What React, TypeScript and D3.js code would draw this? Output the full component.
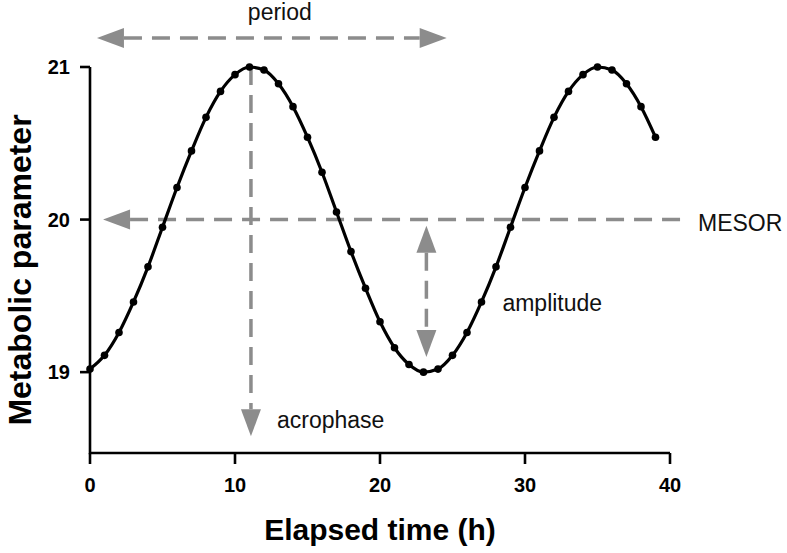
import React from 'react';
import * as d3 from 'd3';

// ---- data ----
const hours = [0,1,2,3,4,5,6,7,8,9,10,11,12,13,14,15,16,17,18,19,20,21,22,23,24,25,26,27,28,29,30,31,32,33,34,35,36,37,38,39];
const values = [19.02,19.11,19.26,19.46,19.69,19.95,20.21,20.45,20.67,20.84,20.95,21.0,20.98,20.89,20.74,20.54,20.31,20.05,19.79,19.55,19.33,19.16,19.05,19.0,19.02,19.11,19.26,19.46,19.69,19.95,20.21,20.45,20.67,20.84,20.95,21.0,20.98,20.89,20.74,20.54];
const xTicks = [0, 10, 20, 30, 40];
const yTicks = [19, 20, 21];
const xTitle = 'Elapsed time (h)';
const yTitle = 'Metabolic parameter';
const labels = ['period', 'MESOR', 'amplitude', 'acrophase'];
// annotation anchors (data units)
const periodSpan = [0.48, 24.6];
const periodLevel = 21.19;
const mesorLevel = 20;
const mesorSpan = [0.9, 40.7];
const acrophaseHour = 11.1;
const acrophaseSpan = [21, 18.58];
const amplitudeHour = 23.2;
const amplitudeSpan = [19.96, 19.1];

const W = 787;
const H = 553;
const GRAY = '#8c8c8c';
const FONT = '"Liberation Sans", Arial, sans-serif';

export default function App() {
  const x = d3.scaleLinear().domain([0, 40]).range([90, 670]);
  const y = d3.scaleLinear().domain([18.47, 21]).range([453, 67]);
  const pts = hours.map((h, i) => [h, values[i]] as [number, number]);
  const line = d3.line<[number, number]>().x(d => x(d[0])).y(d => y(d[1])).curve(d3.curveMonotoneX);

  const AL = 27; // arrowhead length
  const AW = 10; // half width
  const dash = '18 10';
  const sw = 3.5;

  const headLeft = (tx: number, ty: number) => `M${tx},${ty} L${tx + AL},${ty - AW} L${tx + AL},${ty + AW} Z`;
  const headRight = (tx: number, ty: number) => `M${tx},${ty} L${tx - AL},${ty - AW} L${tx - AL},${ty + AW} Z`;
  const headDown = (tx: number, ty: number) => `M${tx},${ty} L${tx - AW},${ty - AL} L${tx + AW},${ty - AL} Z`;
  const headUp = (tx: number, ty: number) => `M${tx},${ty} L${tx - AW},${ty + AL} L${tx + AW},${ty + AL} Z`;

  const pY = y(periodLevel);
  const pL = x(periodSpan[0]);
  const pR = x(periodSpan[1]);
  const mY = y(mesorLevel);
  const mL = x(mesorSpan[0]);
  const mR = x(mesorSpan[1]);
  const aX = x(acrophaseHour);
  const aT = y(acrophaseSpan[0]);
  const aB = y(acrophaseSpan[1]);
  const ampX = x(amplitudeHour);
  const ampT = y(amplitudeSpan[0]);
  const ampB = y(amplitudeSpan[1]);

  const x0 = x.range()[0];
  const x1 = x.range()[1];
  const yBottom = y.range()[0];
  const yTop = y(21);

  return (
    <svg width={W} height={H} style={{ position: 'absolute', left: 0, top: 0, background: '#fff' }} fontFamily={FONT}>
      <rect width={W} height={H} fill="#fff" />
      {/* annotations */}
      <g>
        <line x1={pL + AL} x2={pR - AL} y1={pY} y2={pY} stroke={GRAY} strokeWidth={sw} strokeDasharray={dash} />
        <path d={headLeft(pL, pY)} fill={GRAY} />
        <path d={headRight(pR, pY)} fill={GRAY} />
        <text x={(pL + pR) / 2 + 8} y={20} textAnchor="middle" fontSize={23} fill="#111">{labels[0]}</text>

        <line x1={mL + AL} x2={mR} y1={mY} y2={mY} stroke={GRAY} strokeWidth={sw} strokeDasharray={dash} />
        <path d={headLeft(mL, mY)} fill={GRAY} />
        <text x={698} y={mY + 11} fontSize={23} fill="#111">{labels[1]}</text>

        <line x1={aX} x2={aX} y1={aT} y2={aB - AL} stroke={GRAY} strokeWidth={sw} strokeDasharray={dash} />
        <path d={headDown(aX, aB)} fill={GRAY} />
        <text x={aX + 26} y={aB - 8} fontSize={23} fill="#111">{labels[3]}</text>

        <line x1={ampX} x2={ampX} y1={ampT + AL} y2={ampB - AL} stroke={GRAY} strokeWidth={sw} strokeDasharray={dash} />
        <path d={headUp(ampX, ampT)} fill={GRAY} />
        <path d={headDown(ampX, ampB)} fill={GRAY} />
        <text x={ampX + 76} y={y(19.4)} fontSize={23} fill="#111">{labels[2]}</text>
      </g>
      {/* axes */}
      <g stroke="#000" strokeWidth={2.6} fill="none">
        <path d={`M${x0},${yTop} L${x0},${yBottom} L${x1},${yBottom}`} />
        {yTicks.map(t => (
          <line key={'yt' + t} x1={x0 - 10} x2={x0} y1={y(t)} y2={y(t)} />
        ))}
        {xTicks.map(t => (
          <line key={'xt' + t} x1={x(t)} x2={x(t)} y1={yBottom} y2={yBottom + 11} />
        ))}
      </g>
      {yTicks.map(t => (
        <text key={'yl' + t} x={x0 - 20} y={y(t)} dy="0.35em" textAnchor="end" fontSize={20} fontWeight="bold">{t}</text>
      ))}
      {xTicks.map(t => (
        <text key={'xl' + t} x={x(t)} y={yBottom + 39} textAnchor="middle" fontSize={20} fontWeight="bold">{t}</text>
      ))}
      <text x={(x0 + x1) / 2} y={540} textAnchor="middle" fontSize={30} fontWeight="bold">{xTitle}</text>
      <text transform={`translate(31,${270}) rotate(-90)`} textAnchor="middle" fontSize={32} fontWeight="bold">{yTitle}</text>
      {/* curve */}
      <path d={line(pts) || ''} fill="none" stroke="#000" strokeWidth={3.2} />
      {pts.map((p, i) => (
        <circle key={i} cx={x(p[0])} cy={y(p[1])} r={3.8} fill="#000" />
      ))}
    </svg>
  );
}
